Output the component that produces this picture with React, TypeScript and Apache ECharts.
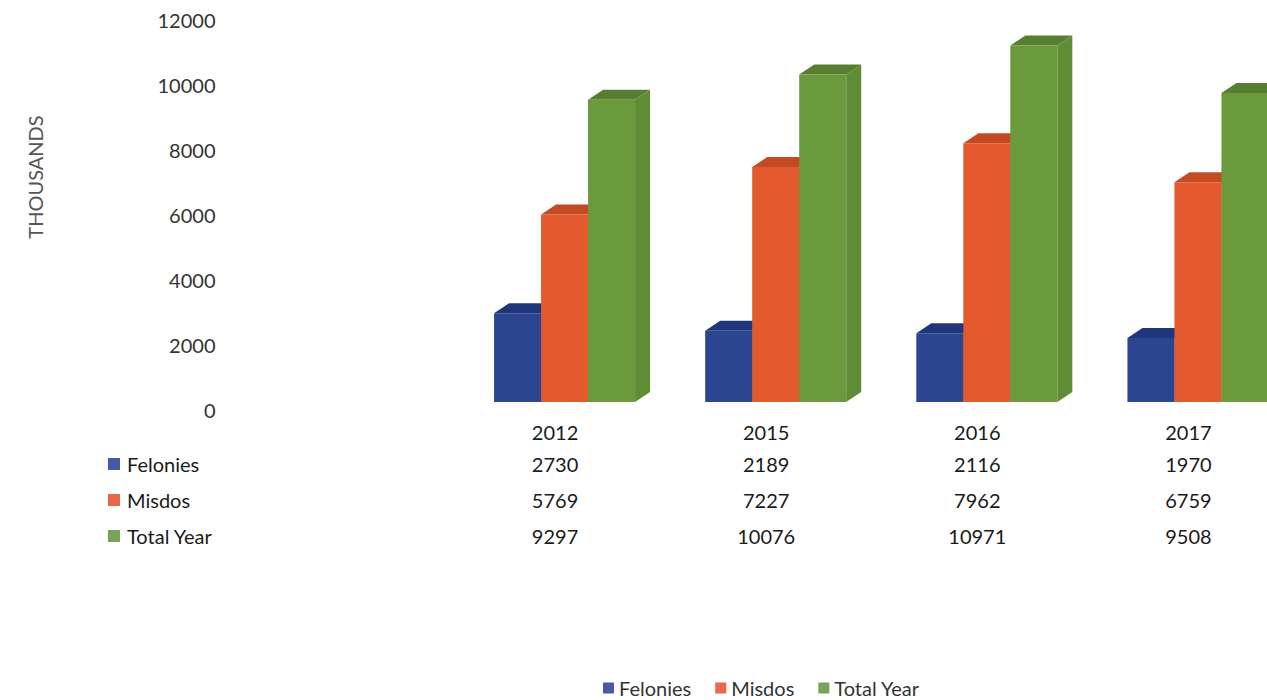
import React, { useEffect, useRef } from "react";
import * as echarts from "echarts";

const categories = ["2012", "2015", "2016", "2017"];
const seriesNames = ["Felonies", "Misdos", "Total Year"];
const felonies = [2730, 2189, 2116, 1970];
const misdos = [5769, 7227, 7962, 6759];
const totalYear = [9297, 10076, 10971, 9508];
const yMin = 0;
const yMax = 12000;
const yInterval = 2000;

const seriesValues = [felonies, misdos, totalYear];
const frontColors = ["#2B4591", "#E4592D", "#6B9A3C"];
const topColors = ["#20367A", "#C44A26", "#587F31"];
const sideColors = ["#1E3270", "#B8431F", "#5F8D35"];
const legendColors = ["#4659A6", "#E8694A", "#79A35A"];

const FONT = "Lato, 'Noto Sans', sans-serif";

export default function App() {
  const ref = useRef<HTMLDivElement>(null);
  useEffect(() => {
    if (!ref.current) return;
    const chart = echarts.init(ref.current, null, { renderer: "svg" });
    const barW = 47;
    const dx = 15;
    const dy = 10;
    const drop = 8;
    const series = seriesValues.map((vals, i) => ({
      type: "custom",
      name: seriesNames[i],
      itemStyle: { color: legendColors[i] },
      encode: { x: 0, y: 1 },
      data: vals.map((v, k) => [k, v]),
      renderItem: (params: any, api: any) => {
        const c = api.coord([api.value(0), api.value(1)]);
        const b = api.coord([api.value(0), 0]);
        const x0 = c[0] - 61 + i * barW;
        const yT = c[1] - drop;
        const yB = b[1] - drop;
        return {
          type: "group",
          children: [
            {
              type: "polygon",
              shape: {
                points: [
                  [x0 + barW, yT],
                  [x0 + barW + dx, yT - dy],
                  [x0 + barW + dx, yB - dy],
                  [x0 + barW, yB],
                ],
              },
              style: { fill: sideColors[i] },
            },
            {
              type: "polygon",
              shape: {
                points: [
                  [x0, yT],
                  [x0 + dx, yT - dy],
                  [x0 + barW + dx, yT - dy],
                  [x0 + barW, yT],
                ],
              },
              style: { fill: topColors[i] },
            },
            {
              type: "rect",
              shape: { x: x0, y: yT, width: barW, height: yB - yT },
              style: { fill: frontColors[i] },
            },
          ],
        };
      },
    }));

    const leftLegend: any[] = [];
    seriesNames.forEach((n, i) => {
      const cy = 464 + i * 36;
      leftLegend.push({
        type: "rect",
        shape: { x: 108, y: cy - 6, width: 12, height: 12 },
        style: { fill: legendColors[i] },
      });
      leftLegend.push({
        type: "text",
        x: 127,
        y: cy,
        style: {
          text: n,
          font: `20px ${FONT}`,
          fill: "#1a1a1a",
          textAlign: "left",
          textVerticalAlign: "middle",
        },
      });
    });

    chart.setOption({
      animation: false,
      backgroundColor: "#fff",
      grid: { left: 449.5, right: 0, top: 20, bottom: 290 },
      xAxis: {
        type: "category",
        data: categories,
        axisLine: { show: false },
        axisTick: { show: false },
        axisLabel: {
          margin: 8,
          interval: 0,
          formatter: (val: string, idx: number) =>
            `{y|${val}}\n{v|${felonies[idx]}}\n{v|${misdos[idx]}}\n{v|${totalYear[idx]}}`,
          rich: {
            y: { fontSize: 20, fontFamily: FONT, color: "#1a1a1a", lineHeight: 28 },
            v: { fontSize: 20, fontFamily: FONT, color: "#1a1a1a", lineHeight: 36 },
          },
        },
      },
      yAxis: {
        type: "value",
        min: yMin,
        max: yMax,
        interval: yInterval,
        axisLine: { show: false },
        axisTick: { show: false },
        splitLine: { show: false },
        axisLabel: {
          margin: 234,
          fontSize: 20,
          fontFamily: FONT,
          color: "#333",
          formatter: (v: number) => String(v),
        },
      },
      legend: {
        left: 603,
        top: 678,
        padding: 0,
        itemWidth: 11,
        itemHeight: 11,
        itemGap: 24,
        icon: "rect",
        textStyle: { fontSize: 20, fontFamily: FONT, color: "#333", lineHeight: 20 },
        data: seriesNames,
      },
      graphic: [
        {
          type: "text",
          x: 35,
          y: 177,
          rotation: Math.PI / 2,
          style: {
            text: "THOUSANDS",
            font: `20px ${FONT}`,
            fill: "#555",
            textAlign: "center",
            textVerticalAlign: "middle",
          },
        },
        ...leftLegend,
      ],
      series,
    });
    return () => chart.dispose();
  }, []);
  return (
    <div
      ref={ref}
      style={{ position: "fixed", left: 0, top: 0, width: 1294, height: 700 }}
    />
  );
}
